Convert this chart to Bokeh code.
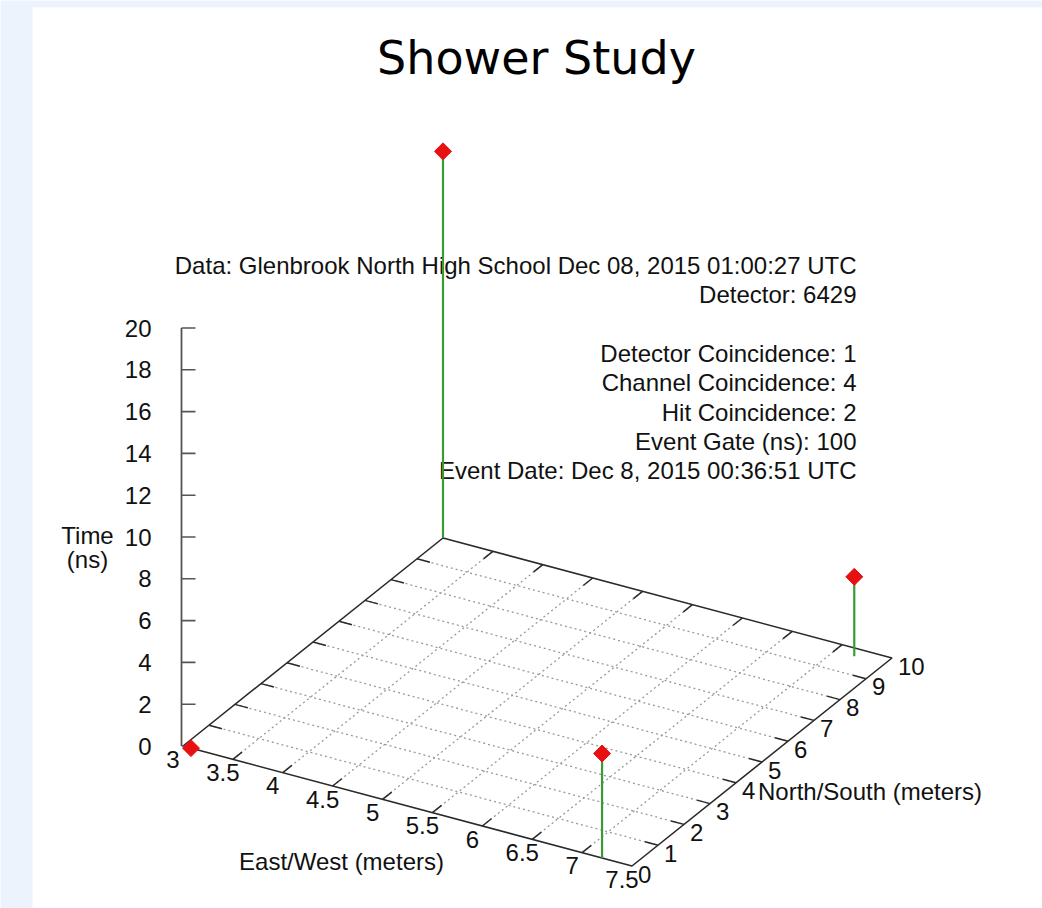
import numpy as np
from bokeh.plotting import figure
from bokeh.models import Range1d, ColumnDataSource
from bokeh.core.properties import value
from bokeh.embed import file_html
from bokeh.resources import INLINE

# ---------------- data ----------------
title = "Shower Study"
east_west = [3.08, 3.0, 7.2, 7.2]      # metres
north_south = [0.0, 10.0, 9.7, 0.0]    # metres
time_ns = [0.0, 18.5, 3.8, 5.0]        # ns

x_ticks = [3, 3.5, 4, 4.5, 5, 5.5, 6, 6.5, 7, 7.5]
x_tick_labels = ["3", "3.5", "4", "4.5", "5", "5.5", "6", "6.5", "7", "7.5"]
y_ticks = [0, 1, 2, 3, 4, 5, 6, 7, 8, 9, 10]
y_tick_labels = [str(v) for v in y_ticks]
z_ticks = [0, 2, 4, 6, 8, 10, 12, 14, 16, 18, 20]
z_tick_labels = [str(v) for v in z_ticks]

x_label = "East/West (meters)"
y_label = "North/South (meters)"
z_label = ["Time", "(ns)"]

info_lines = [
    "Data: Glenbrook North High School Dec 08, 2015 01:00:27 UTC",
    "Detector: 6429",
    "",
    "Detector Coincidence: 1",
    "Channel Coincidence: 4",
    "Hit Coincidence: 2",
    "Event Gate (ns): 100",
    "Event Date: Dec 8, 2015 00:36:51 UTC",
]

# ---------------- view (3-D projection) ----------------
X0, X1 = 3.0, 7.5
Y0, Y1 = 0.0, 10.0
Z0, Z1 = 0.0, 20.0
ORIGIN = (182.5, 745.5)
EX = (449.0, 120.0)
EY = (260.0, -208.0)
ZSCALE = 20.9

W, H = 1042, 908
FONT = value("Liberation Sans")


def proj(x, y, z=0.0):
    x = np.asarray(x, dtype=float)
    y = np.asarray(y, dtype=float)
    z = np.asarray(z, dtype=float)
    a = (x - X0) / (X1 - X0)
    b = (y - Y0) / (Y1 - Y0)
    px = ORIGIN[0] + a * EX[0] + b * EY[0]
    py = ORIGIN[1] + a * EX[1] + b * EY[1] - (z - Z0) * ZSCALE
    return px, py


p = figure(width=W, height=H, x_range=Range1d(0, W), y_range=Range1d(H, 0),
           output_backend="svg", toolbar_location=None, min_border=0)
p.axis.visible = False
p.grid.visible = False
p.outline_line_color = None
p.background_fill_color = "#edf3fc"
p.border_fill_color = "#edf3fc"

# white page area
p.quad(left=[32], right=[W], top=[7], bottom=[H], fill_color="white", line_color=None)

# title
p.text(x=[536], y=[57], text=[title], text_font=value("DejaVu Sans"),
       text_font_size="46px", text_align="center", text_baseline="middle", text_color="black")

# info text (right aligned)
info_y = [265 + 29.3 * i for i in range(len(info_lines))]
p.text(x=[856] * len(info_lines), y=info_y, text=info_lines, text_font=FONT,
       text_font_size="24px", text_align="right", text_baseline="middle", text_color="#111111")

# ---------------- base plane grid ----------------
gx, gy = [], []
for xv in x_ticks[1:-1]:
    a = proj([xv, xv], [Y0, Y1])
    gx.append(list(a[0])); gy.append(list(a[1]))
for yv in y_ticks[1:-1]:
    a = proj([X0, X1], [yv, yv])
    gx.append(list(a[0])); gy.append(list(a[1]))
p.multi_line(xs=gx, ys=gy, line_color="#9a9a9a", line_width=1.3, line_dash="2 3")

# border
bx, by = proj([X0, X1, X1, X0, X0], [Y0, Y0, Y1, Y1, Y0])
p.line(list(bx), list(by), line_color="#2a2a2a", line_width=1.6)

# ticks on x edges
tx, ty = [], []
for xv in x_ticks[1:-1]:
    a = proj([xv, xv], [Y0, Y0 + 0.35])
    tx.append(list(a[0])); ty.append(list(a[1]))
    a = proj([xv, xv], [Y1, Y1 - 0.35])
    tx.append(list(a[0])); ty.append(list(a[1]))
for yv in y_ticks[1:-1]:
    a = proj([X1, X1 - 0.13], [yv, yv])
    tx.append(list(a[0])); ty.append(list(a[1]))
    a = proj([X0, X0 + 0.13], [yv, yv])
    tx.append(list(a[0])); ty.append(list(a[1]))
p.multi_line(xs=tx, ys=ty, line_color="#2a2a2a", line_width=1.5)

# z axis
zx, zy = proj([X0, X0], [Y0, Y0], [Z0, Z1])
p.line(list(zx - 1.5), list(zy), line_color="#555555", line_width=1.8)
ztx, zty = [], []
for zv in z_ticks:
    a = proj(X0, Y0, zv)
    ztx.append([float(a[0]) - 1.5, float(a[0]) + 12.5]); zty.append([float(a[1])] * 2)
p.multi_line(xs=ztx, ys=zty, line_color="#555555", line_width=1.6)

# tick labels
lx, ly = proj(x_ticks, [Y0] * len(x_ticks))
p.text(x=list(lx - 10), y=list(ly + 13), text=x_tick_labels, text_font=FONT,
       text_font_size="24px", text_align="center", text_baseline="middle", text_color="#111111")
lx, ly = proj([X1] * len(y_ticks), y_ticks)
p.text(x=list(lx + 6), y=list(ly + 8), text=y_tick_labels, text_font=FONT,
       text_font_size="24px", text_align="left", text_baseline="middle", text_color="#111111")
lx, ly = proj([X0] * len(z_ticks), [Y0] * len(z_ticks), z_ticks)
p.text(x=list(lx - 31.5), y=list(ly), text=z_tick_labels, text_font=FONT,
       text_font_size="24px", text_align="right", text_baseline="middle", text_color="#111111")

# axis labels
ax, ay = proj((X0 + X1) / 2, Y0)
p.text(x=[float(ax) - 66], y=[float(ay) + 55], text=[x_label], text_font=FONT,
       text_font_size="24px", text_align="center", text_baseline="middle", text_color="#111111")
ax, ay = proj(X1, 4.0)
p.text(x=[float(ax) + 22], y=[float(ay) + 9], text=[y_label], text_font=FONT,
       text_font_size="24px", text_align="left", text_baseline="middle", text_color="#111111")
p.text(x=[87, 87], y=[535, 559], text=z_label, text_font=FONT,
       text_font_size="24px", text_align="center", text_baseline="middle", text_color="#111111")

# ---------------- impulses + points ----------------
bxs, bys = proj(east_west, north_south, [0.0] * len(time_ns))
txs, tys = proj(east_west, north_south, time_ns)
src = ColumnDataSource(dict(x0=bxs, y0=bys, x1=txs, y1=tys))
p.segment(x0="x0", y0="y0", x1="x1", y1="y1", source=src, line_color="#3a9a3a", line_width=2.2)
p.scatter(x="x1", y="y1", source=src, marker="square", angle=np.pi / 4, size=12,
          fill_color="#e81010", line_color="#e81010", line_width=1)

open("out.html", "w").write(file_html(p, INLINE))
